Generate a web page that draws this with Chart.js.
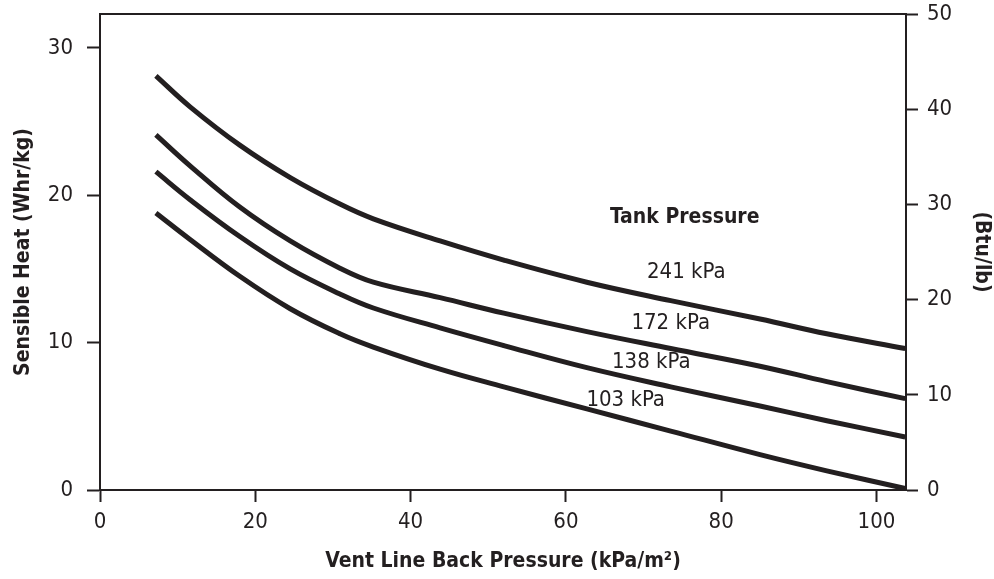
<!DOCTYPE html>
<html>
<head>
<meta charset="utf-8">
<script src="https://cdn.jsdelivr.net/npm/chart.js@4"></script>
<style>
  html, body { margin: 0; padding: 0; background: #fff; }
  #wrap { width: 994px; height: 579px; position: relative; }
</style>
</head>
<body>
<div id="wrap"><canvas id="chart"></canvas></div>
<script>
/* Sensible heat vs vent line back pressure */

const INK = '#231f20';
const FONT = "'Liberation Sans Narrow', 'DejaVu Sans Condensed', 'Liberation Sans', sans-serif";

// back pressure (kPa/m2), shared by all curves
const backPressure = [7.2, 11.6, 18, 24.5, 30.9, 35.2, 43.8, 52, 62.7, 73.5, 85, 93.6, 103.7];

// sensible heat (Whr/kg) per tank pressure
const heat241 = [28.1, 26.0, 23.4, 21.2, 19.4, 18.4, 16.9, 15.6, 14.1, 12.85, 11.6, 10.6, 9.6];
const heat172 = [24.1, 22.0, 19.2, 16.9, 15.05, 14.1, 13.05, 12.0, 10.75, 9.6, 8.4, 7.35, 6.2];
const heat138 = [21.6, 19.7, 17.2, 15.0, 13.3, 12.35, 11.0, 9.8, 8.3, 7.0, 5.7, 4.7, 3.6];
const heat103 = [18.8, 17.0, 14.5, 12.3, 10.6, 9.7, 8.2, 7.0, 5.5, 4.0, 2.4, 1.3, 0.1];

// in-plot labels, placed in data units
const labelText = ['Tank Pressure', '241 kPa', '172 kPa', '138 kPa', '103 kPa'];
const labelX = [75.3, 75.5, 73.5, 71.0, 67.7];
const labelY = [18.5, 14.8, 11.34, 8.65, 6.11];
const labelBold = [true, false, false, false, false];

const toPoints = ys => ys.map((y, i) => ({ x: backPressure[i], y }));

const curve = (label, ys) => ({
  label,
  data: toPoints(ys),
  borderColor: INK,
  borderWidth: 5,
  pointRadius: 0,
  fill: false,
  tension: 0.4,
  yAxisID: 'y',
});

const framePlugin = {
  id: 'frame',
  afterDraw(chart) {
    const { ctx, chartArea: a } = chart;
    ctx.save();
    ctx.strokeStyle = INK;
    ctx.lineWidth = 2;
    ctx.beginPath();
    ctx.moveTo(a.left - 1, a.top);
    ctx.lineTo(a.right + 1, a.top);
    ctx.stroke();
    ctx.restore();
  }
};

const labelPlugin = {
  id: 'curveLabels',
  afterDatasetsDraw(chart) {
    const { ctx, scales } = chart;
    ctx.save();
    ctx.fillStyle = INK;
    ctx.textAlign = 'center';
    ctx.textBaseline = 'middle';
    labelText.forEach((t, i) => {
      ctx.font = (labelBold[i] ? 'bold 21px ' : '22px ') + FONT;
      ctx.fillText(t, scales.x.getPixelForValue(labelX[i]), scales.y.getPixelForValue(labelY[i]));
    });
    ctx.restore();
  }
};

const tickFont = { family: FONT, size: 22 };
const titleFont = { family: FONT, size: 21, weight: 'bold', lineHeight: 1 };

const fitV = w => s => { s.width = w; s.paddingTop = 0; s.paddingBottom = 0; };

new Chart(document.getElementById('chart'), {
  type: 'line',
  data: {
    datasets: [
      curve('241 kPa', heat241),
      curve('172 kPa', heat172),
      curve('138 kPa', heat138),
      curve('103 kPa', heat103),
    ]
  },
  options: {
    responsive: true,
    maintainAspectRatio: false,
    animation: false,
    layout: { padding: { top: 14, left: 0, right: 0, bottom: 0 } },
    plugins: { legend: { display: false }, tooltip: { enabled: false } },
    scales: {
      x: {
        type: 'linear',
        min: 0, max: 103.8,
        afterFit: s => { s.height = 89; s.paddingLeft = 0; s.paddingRight = 0; },
        ticks: { stepSize: 20, includeBounds: false, padding: 7, color: INK, font: tickFont },
        grid: { drawOnChartArea: false, tickLength: 12, tickColor: INK, tickWidth: 2 },
        border: { color: INK, width: 2 },
        title: { display: true, text: 'Vent Line Back Pressure (kPa/m²)', color: INK, font: titleFont, padding: { top: 0, bottom: 7 } }
      },
      y: {
        position: 'left',
        min: 0, max: 32.3,
        afterFit: fitV(100),
        ticks: { stepSize: 10, includeBounds: false, padding: 14, color: INK, font: tickFont },
        grid: { drawOnChartArea: false, tickLength: 13, tickColor: INK, tickWidth: 2 },
        border: { color: INK, width: 2 },
        title: { display: true, text: 'Sensible Heat (Whr/kg)', color: INK, font: titleFont, padding: { top: 13, bottom: 0 } }
      },
      y1: {
        position: 'right',
        min: 0, max: 50,
        afterFit: fitV(88),
        ticks: { stepSize: 10, padding: 9, color: INK, font: tickFont },
        grid: { drawOnChartArea: false, tickLength: 12, tickColor: INK, tickWidth: 2 },
        border: { color: INK, width: 2 },
        title: { display: true, text: '(Btu/lb)', color: INK, font: titleFont, padding: { top: 2, bottom: 0 } }
      }
    }
  },
  plugins: [framePlugin, labelPlugin]
});
</script>
</body>
</html>
